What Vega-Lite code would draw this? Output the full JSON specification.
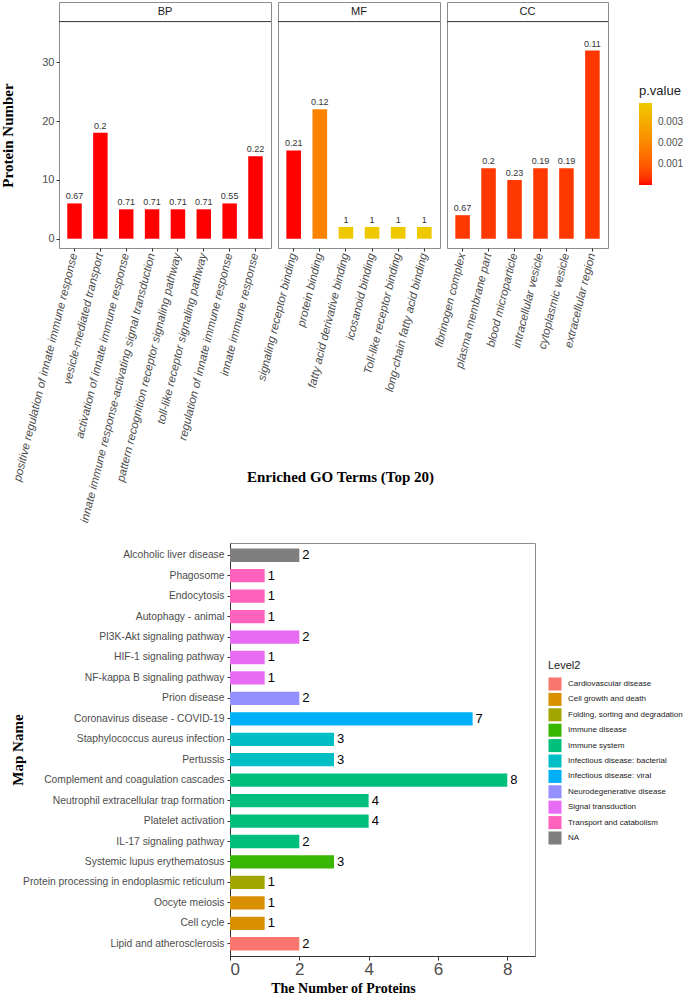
{
  "$schema": "https://vega.github.io/schema/vega-lite/v6.json",
  "padding": {"left": 0, "top": 1, "right": 0, "bottom": 0},
  "background": "white",
  "config": {
    "font": "Liberation Sans",
    "axis": {"grid": false, "labelColor": "#4d4d4d", "tickColor": "#333333", "titleFont": "Liberation Serif", "titleFontWeight": "bold", "titleColor": "#000000", "titleFontSize": 15},
    "legend": {"titleFont": "Liberation Sans", "titleFontWeight": "normal", "titleColor": "#1a1a1a", "labelColor": "#1a1a1a"}
  },
  "datasets": {
    "go": [
      {"ont": "BP", "term": "positive regulation of innate immune response", "count": 6, "label": "0.67", "pvalue": 0.00001},
      {"ont": "BP", "term": "vesicle-mediated transport", "count": 18, "label": "0.2", "pvalue": 0.00001},
      {"ont": "BP", "term": "activation of innate immune response", "count": 5, "label": "0.71", "pvalue": 0.00001},
      {"ont": "BP", "term": "innate immune response-activating signal transduction", "count": 5, "label": "0.71", "pvalue": 0.00001},
      {"ont": "BP", "term": "pattern recognition receptor signaling pathway", "count": 5, "label": "0.71", "pvalue": 0.00001},
      {"ont": "BP", "term": "toll-like receptor signaling pathway", "count": 5, "label": "0.71", "pvalue": 0.00001},
      {"ont": "BP", "term": "regulation of innate immune response", "count": 6, "label": "0.55", "pvalue": 0.00001},
      {"ont": "BP", "term": "innate immune response", "count": 14, "label": "0.22", "pvalue": 0.00001},
      {"ont": "MF", "term": "signaling receptor binding", "count": 15, "label": "0.21", "pvalue": 0.00002},
      {"ont": "MF", "term": "protein binding", "count": 22, "label": "0.12", "pvalue": 0.0019},
      {"ont": "MF", "term": "fatty acid derivative binding", "count": 2, "label": "1", "pvalue": 0.0039},
      {"ont": "MF", "term": "icosanoid binding", "count": 2, "label": "1", "pvalue": 0.0039},
      {"ont": "MF", "term": "Toll-like receptor binding", "count": 2, "label": "1", "pvalue": 0.0039},
      {"ont": "MF", "term": "long-chain fatty acid binding", "count": 2, "label": "1", "pvalue": 0.0039},
      {"ont": "CC", "term": "fibrinogen complex", "count": 4, "label": "0.67", "pvalue": 0.0004},
      {"ont": "CC", "term": "plasma membrane part", "count": 12, "label": "0.2", "pvalue": 0.0004},
      {"ont": "CC", "term": "blood microparticle", "count": 10, "label": "0.23", "pvalue": 0.0004},
      {"ont": "CC", "term": "intracellular vesicle", "count": 12, "label": "0.19", "pvalue": 0.0004},
      {"ont": "CC", "term": "cytoplasmic vesicle", "count": 12, "label": "0.19", "pvalue": 0.0004},
      {"ont": "CC", "term": "extracellular region", "count": 32, "label": "0.11", "pvalue": 0.0004}
    ],
    "kegg": [
      {"name": "Alcoholic liver disease", "n": 2, "level2": "NA"},
      {"name": "Phagosome", "n": 1, "level2": "Transport and catabolism"},
      {"name": "Endocytosis", "n": 1, "level2": "Transport and catabolism"},
      {"name": "Autophagy - animal", "n": 1, "level2": "Transport and catabolism"},
      {"name": "PI3K-Akt signaling pathway", "n": 2, "level2": "Signal transduction"},
      {"name": "HIF-1 signaling pathway", "n": 1, "level2": "Signal transduction"},
      {"name": "NF-kappa B signaling pathway", "n": 1, "level2": "Signal transduction"},
      {"name": "Prion disease", "n": 2, "level2": "Neurodegenerative disease"},
      {"name": "Coronavirus disease - COVID-19", "n": 7, "level2": "Infectious disease: viral"},
      {"name": "Staphylococcus aureus infection", "n": 3, "level2": "Infectious disease: bacterial"},
      {"name": "Pertussis", "n": 3, "level2": "Infectious disease: bacterial"},
      {"name": "Complement and coagulation cascades", "n": 8, "level2": "Immune system"},
      {"name": "Neutrophil extracellular trap formation", "n": 4, "level2": "Immune system"},
      {"name": "Platelet activation", "n": 4, "level2": "Immune system"},
      {"name": "IL-17 signaling pathway", "n": 2, "level2": "Immune system"},
      {"name": "Systemic lupus erythematosus", "n": 3, "level2": "Immune disease"},
      {"name": "Protein processing in endoplasmic reticulum", "n": 1, "level2": "Folding, sorting and degradation"},
      {"name": "Oocyte meiosis", "n": 1, "level2": "Cell growth and death"},
      {"name": "Cell cycle", "n": 1, "level2": "Cell growth and death"},
      {"name": "Lipid and atherosclerosis", "n": 2, "level2": "Cardiovascular disease"}
    ]
  },
  "vconcat": [
    {
      "hconcat": [
        {
          "width": 212, "height": 246,
          "view": {"stroke": "#8c8c8c"},
          "layer": [
            {"data": {"values": [{"ont": "BP"}]}, "mark": {"type": "bar", "color": "#d9d9d9"}, "encoding": {"y": {"datum": 36.92, "type": "quantitative", "scale": {"domain": [-1.58, 40.25], "nice": false}, "axis": {"values": [0, 10, 20, 30], "title": "Protein Number", "titleY": 133, "titlePadding": 26, "domain": false, "tickSize": 3, "labelFontSize": 11, "labelPadding": 2}}, "y2": {"datum": 40.25}}},
            {"data": {"values": [{"ont": "BP"}]}, "mark": {"type": "rule", "color": "#333333", "strokeWidth": 1}, "encoding": {"y": {"datum": 36.92, "type": "quantitative"}}},
            {"data": {"values": [{"ont": "BP"}]}, "mark": {"type": "text", "fontSize": 11, "color": "#1a1a1a", "baseline": "middle"}, "encoding": {"y": {"datum": 38.6, "type": "quantitative"}, "text": {"field": "ont"}}},
            {"data": {"name": "go"}, "transform": [{"filter": "datum.ont === 'BP'"}], "mark": {"type": "bar"},
             "encoding": {
               "x": {"field": "term", "type": "nominal", "sort": null, "scale": {"paddingInner": 0.44, "paddingOuter": 0.32}, "axis": {"title": null, "labelAngle": -76, "labelAlign": "right", "labelBaseline": "middle", "labelFontSize": 11.5, "labelFontStyle": "italic", "domain": false, "tickSize": 3, "labelPadding": 2, "labelLimit": 400, "labelOverlap": false}},
               "y": {"field": "count", "type": "quantitative"},
               "y2": {"datum": 0},
               "color": {"field": "pvalue", "type": "quantitative", "scale": {"domain": [0.00001, 0.0039], "range": ["#ff0000", "#eec900"], "interpolate": "lab"},
                 "legend": {"title": "p.value", "orient": "none", "legendX": 580, "legendY": 83, "values": [0.001, 0.002, 0.003], "format": ".3f", "gradientLength": 82, "gradientThickness": 13, "titleFontSize": 13, "labelFontSize": 10, "labelColor": "#4d4d4d", "labelOffset": 6, "titlePadding": 5}}
             }},
            {"data": {"name": "go"}, "transform": [{"filter": "datum.ont === 'BP'"}], "mark": {"type": "text", "baseline": "bottom", "dy": -2, "fontSize": 9, "color": "#333333"},
             "encoding": {"x": {"field": "term", "type": "nominal", "sort": null}, "y": {"field": "count", "type": "quantitative"}, "text": {"field": "label"}}}
          ]
        },
        {
          "width": 162, "height": 246,
          "view": {"stroke": "#8c8c8c"},
          "layer": [
            {"data": {"values": [{"ont": "MF"}]}, "mark": {"type": "bar", "color": "#d9d9d9"}, "encoding": {"y": {"datum": 36.92, "type": "quantitative", "scale": {"domain": [-1.58, 40.25], "nice": false}, "axis": null}, "y2": {"datum": 40.25}}},
            {"data": {"values": [{"ont": "MF"}]}, "mark": {"type": "rule", "color": "#333333", "strokeWidth": 1}, "encoding": {"y": {"datum": 36.92, "type": "quantitative"}}},
            {"data": {"values": [{"ont": "MF"}]}, "mark": {"type": "text", "fontSize": 11, "color": "#1a1a1a", "baseline": "middle"}, "encoding": {"y": {"datum": 38.6, "type": "quantitative"}, "text": {"field": "ont"}}},
            {"data": {"name": "go"}, "transform": [{"filter": "datum.ont === 'MF'"}], "mark": {"type": "bar"},
             "encoding": {
               "x": {"field": "term", "type": "nominal", "sort": null, "scale": {"paddingInner": 0.44, "paddingOuter": 0.32}, "axis": {"title": "Enriched  GO Terms (Top 20)", "titleX": 62, "titleY": 228, "titleAlign": "center", "titleBaseline": "middle", "titleFontSize": 15, "labelAngle": -76, "labelAlign": "right", "labelBaseline": "middle", "labelFontSize": 11.5, "labelFontStyle": "italic", "domain": false, "tickSize": 3, "labelPadding": 2, "labelLimit": 400, "labelOverlap": false}},
               "y": {"field": "count", "type": "quantitative"},
               "y2": {"datum": 0},
               "color": {"field": "pvalue", "type": "quantitative"}
             }},
            {"data": {"name": "go"}, "transform": [{"filter": "datum.ont === 'MF'"}], "mark": {"type": "text", "baseline": "bottom", "dy": -2, "fontSize": 9, "color": "#333333"},
             "encoding": {"x": {"field": "term", "type": "nominal", "sort": null}, "y": {"field": "count", "type": "quantitative"}, "text": {"field": "label"}}}
          ]
        },
        {
          "width": 161, "height": 246,
          "view": {"stroke": "#8c8c8c"},
          "layer": [
            {"data": {"values": [{"ont": "CC"}]}, "mark": {"type": "bar", "color": "#d9d9d9"}, "encoding": {"y": {"datum": 36.92, "type": "quantitative", "scale": {"domain": [-1.58, 40.25], "nice": false}, "axis": null}, "y2": {"datum": 40.25}}},
            {"data": {"values": [{"ont": "CC"}]}, "mark": {"type": "rule", "color": "#333333", "strokeWidth": 1}, "encoding": {"y": {"datum": 36.92, "type": "quantitative"}}},
            {"data": {"values": [{"ont": "CC"}]}, "mark": {"type": "text", "fontSize": 11, "color": "#1a1a1a", "baseline": "middle"}, "encoding": {"y": {"datum": 38.6, "type": "quantitative"}, "text": {"field": "ont"}}},
            {"data": {"name": "go"}, "transform": [{"filter": "datum.ont === 'CC'"}], "mark": {"type": "bar"},
             "encoding": {
               "x": {"field": "term", "type": "nominal", "sort": null, "scale": {"paddingInner": 0.44, "paddingOuter": 0.32}, "axis": {"title": null, "labelAngle": -76, "labelAlign": "right", "labelBaseline": "middle", "labelFontSize": 11.5, "labelFontStyle": "italic", "domain": false, "tickSize": 3, "labelPadding": 2, "labelLimit": 400, "labelOverlap": false}},
               "y": {"field": "count", "type": "quantitative"},
               "y2": {"datum": 0},
               "color": {"field": "pvalue", "type": "quantitative"}
             }},
            {"data": {"name": "go"}, "transform": [{"filter": "datum.ont === 'CC'"}], "mark": {"type": "text", "baseline": "bottom", "dy": -2, "fontSize": 9, "color": "#333333"},
             "encoding": {"x": {"field": "term", "type": "nominal", "sort": null}, "y": {"field": "count", "type": "quantitative"}, "text": {"field": "label"}}}
          ]
        }
      ],
      "spacing": 7,
      "bounds": "flush",
      "resolve": {"scale": {"color": "shared", "x": "independent", "y": "independent"}}
    },
    {
      "hconcat": [
        {
          "width": 164, "height": 10,
          "view": {"stroke": null},
          "data": {"values": [{"s": ""}]},
          "mark": {"type": "text", "opacity": 0},
          "encoding": {"text": {"field": "s"}}
        },
        {
          "width": 305, "height": 413,
          "data": {"name": "kegg"},
          "view": {"stroke": "#8c8c8c"},
          "encoding": {
            "y": {"field": "name", "type": "nominal",
              "sort": ["Alcoholic liver disease", "Phagosome", "Endocytosis", "Autophagy - animal", "PI3K-Akt signaling pathway", "HIF-1 signaling pathway", "NF-kappa B signaling pathway", "Prion disease", "Coronavirus disease - COVID-19", "Staphylococcus aureus infection", "Pertussis", "Complement and coagulation cascades", "Neutrophil extracellular trap formation", "Platelet activation", "IL-17 signaling pathway", "Systemic lupus erythematosus", "Protein processing in endoplasmic reticulum", "Oocyte meiosis", "Cell cycle", "Lipid and atherosclerosis"],
              "scale": {"paddingInner": 0.35, "paddingOuter": 0.275},
              "axis": {"title": "Map Name", "titleFontSize": 15, "titlePadding": 5, "labelFontSize": 10.3, "labelColor": "#4d4d4d", "domainColor": "#333333", "tickColor": "#333333", "tickSize": 3, "labelPadding": 3, "labelLimit": 400}},
            "x": {"field": "n", "type": "quantitative", "scale": {"domain": [0, 8.8], "nice": false},
              "axis": {"values": [0, 2, 4, 6, 8], "labelFontSize": 17, "labelColor": "#4d4d4d", "domainColor": "#333333", "tickColor": "#333333", "tickSize": 4, "labelPadding": 1, "title": "The Number of Proteins", "titleX": 113, "titleY": 32, "titleAlign": "center", "titleBaseline": "middle", "titleFontSize": 14}}
          },
          "layer": [
            {"mark": {"type": "bar"},
             "encoding": {"color": {"field": "level2", "type": "nominal",
               "scale": {"domain": ["Cardiovascular disease", "Cell growth and death", "Folding, sorting and degradation", "Immune disease", "Immune system", "Infectious disease: bacterial", "Infectious disease: viral", "Neurodegenerative disease", "Signal transduction", "Transport and catabolism", "NA"],
                         "range": ["#F8766D", "#D89000", "#A3A500", "#39B600", "#00BF7D", "#00BFC4", "#00B0F6", "#9590FF", "#E76BF3", "#FF62BC", "#7F7F7F"]},
               "legend": {"title": "Level2", "orient": "none", "legendX": 489, "legendY": 117, "symbolType": "square", "symbolSize": 170, "symbolStrokeWidth": 0, "labelFontSize": 8, "titleFontSize": 11, "rowPadding": 1.4, "labelOffset": 6, "titlePadding": 6}}}},
            {"mark": {"type": "text", "align": "left", "baseline": "middle", "dx": 3, "fontSize": 13, "color": "#000000"}, "encoding": {"text": {"field": "n"}}}
          ]
        }
      ],
      "spacing": 7,
      "bounds": "flush"
    }
  ],
  "spacing": 17,
  "resolve": {"scale": {"color": "independent"}, "legend": {"color": "independent"}}
}
